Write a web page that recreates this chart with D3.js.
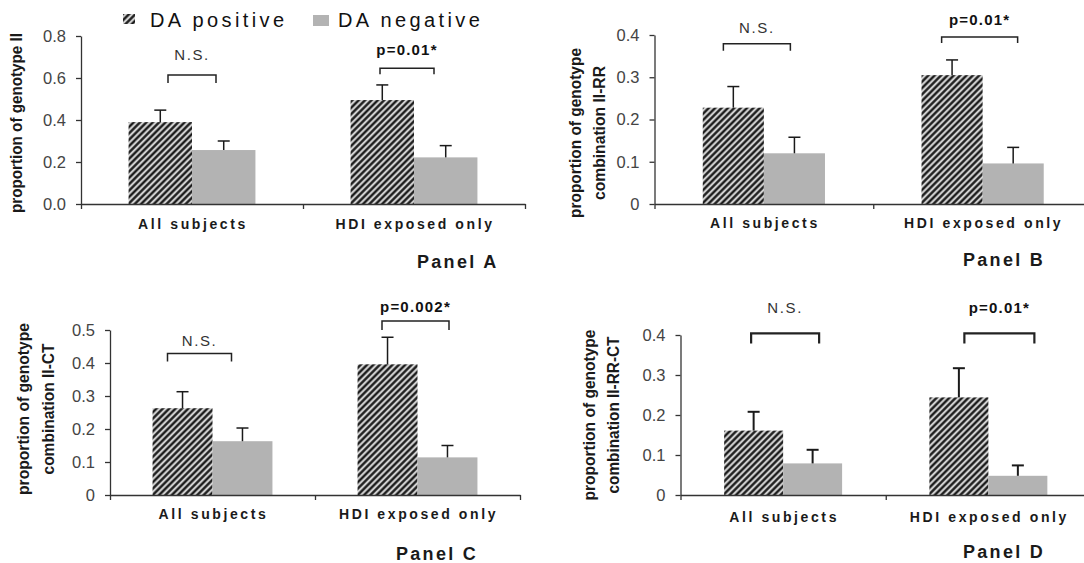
<!DOCTYPE html>
<html>
<head>
<meta charset="utf-8">
<script src="https://cdn.jsdelivr.net/npm/d3@7"></script>
<style>
  body { margin: 0; background: #fff; }
  svg { display: block; font-family: "Liberation Sans", Arial, sans-serif; }
</style>
</head>
<body>
<svg width="1084" height="563"></svg>
<script>
// categories and series
const groups = ["All subjects", "HDI exposed only"];
const series = ["DA positive", "DA negative"];
const panelNames = ["Panel A", "Panel B", "Panel C", "Panel D"];
const yTitles = [
  ["proportion of genotype II"],
  ["proportion of genotype", "combination II-RR"],
  ["proportion of genotype", "combination II-CT"],
  ["proportion of genotype", "combination II-RR-CT"]
];

// y ticks and their labels
const yTicks = [
  [0, 0.2, 0.4, 0.6, 0.8],
  [0, 0.1, 0.2, 0.3, 0.4],
  [0, 0.1, 0.2, 0.3, 0.4, 0.5],
  [0, 0.1, 0.2, 0.3, 0.4]
];
const yTickLabels = [
  ["0.0", "0.2", "0.4", "0.6", "0.8"],
  ["0", "0.1", "0.2", "0.3", "0.4"],
  ["0", "0.1", "0.2", "0.3", "0.4", "0.5"],
  ["0", "0.1", "0.2", "0.3", "0.4"]
];

// means and upper error per panel: [All subjects, HDI exposed only]
const posMeans = [[0.39, 0.495], [0.228, 0.305], [0.263, 0.396], [0.161, 0.244]];
const negMeans = [[0.257, 0.222], [0.12, 0.096], [0.163, 0.114], [0.079, 0.048]];
const posErr = [[0.057, 0.072], [0.05, 0.036], [0.05, 0.082], [0.047, 0.073]];
const negErr = [[0.043, 0.056], [0.038, 0.038], [0.04, 0.036], [0.034, 0.026]];

// significance brackets
const sigLabels = [["N.S.", "p=0.01*"], ["N.S.", "p=0.01*"], ["N.S.", "p=0.002*"], ["N.S.", "p=0.01*"]];
const bracketLevels = [[0.614, 0.646], [0.379, 0.395], [0.429, 0.527], [0.404, 0.404]];

// where each panel sits on the page
const layout = [
  { x0: 81, x1: 525, top: 36, bot: 204, pad: 0.75, titleX: [16], titleY: 123, titleLen: [180], labelGap: 25, panel: [417, 268],
    brOff: [0, -7], brHalf: [24, 27], leg: [8, 6], txtGap: [15, 13], errW: 1.5, brW: 1.5 },
  { x0: 654.5, x1: 1092, top: 35, bot: 204, pad: 0.79, titleX: [575, 599], titleY: 133, titleLen: [170, 134], labelGap: 24, panel: [963, 266],
    brOff: [-7, -3], brHalf: [33.5, 38], leg: [7, 6], txtGap: [11, 12], errW: 1.5, brW: 1.5 },
  { x0: 110, x1: 520, top: 330, bot: 495, pad: 0.71, titleX: [23, 48], titleY: 409, titleLen: [172, 131], labelGap: 24, panel: [396, 560],
    brOff: [-13, -2], brHalf: [32, 33.5], leg: [8, 9], txtGap: [7, 9], errW: 1.5, brW: 1.5 },
  { x0: 680.5, x1: 1091, top: 335, bot: 495, pad: 0.74, titleX: [589, 613], titleY: 415, titleLen: [171, 157], labelGap: 27, panel: [963, 558],
    brOff: [2, 11], brHalf: [34, 35], leg: [10, 10], txtGap: [20, 20], errW: 2, brW: 2.2 }
];

const grey = "#b3b3b3";
const ink = "#1a1a1a";
const font = "'Liberation Sans', Arial, sans-serif";

const svg = d3.select("svg");

// hatch pattern for DA positive
const defs = svg.append("defs");
const pat = defs.append("pattern")
  .attr("id", "hatch")
  .attr("patternUnits", "userSpaceOnUse")
  .attr("width", 4.5).attr("height", 10)
  .attr("patternTransform", "rotate(45)");
pat.append("rect").attr("width", 4.5).attr("height", 10).attr("fill", "#d0d0d0");
pat.append("line").attr("x1", 2.25).attr("x2", 2.25).attr("y1", 0).attr("y2", 10)
  .attr("stroke", "#111").attr("stroke-width", 2.2);

const fillFor = s => s === series[0] ? "url(#hatch)" : grey;

layout.forEach((L, i) => {
  const g = svg.append("g");

  const x = d3.scaleBand().domain(groups).range([L.x0, L.x1]);
  const xs = d3.scaleBand().domain(series).range([0, x.bandwidth()])
    .paddingInner(0).paddingOuter(L.pad);
  const y = d3.scaleLinear().domain([0, d3.max(yTicks[i])]).range([L.bot, L.top]);

  const rows = groups.map((grp, j) => ({
    group: grp,
    vals: [
      { s: series[0], v: posMeans[i][j], e: posErr[i][j] },
      { s: series[1], v: negMeans[i][j], e: negErr[i][j] }
    ]
  }));

  // bars
  const grp = g.selectAll("g.grp").data(rows).enter().append("g")
    .attr("class", "grp")
    .attr("transform", d => "translate(" + x(d.group) + ",0)");

  grp.selectAll("rect").data(d => d.vals).enter().append("rect")
    .attr("x", d => xs(d.s))
    .attr("y", d => y(d.v))
    .attr("width", xs.bandwidth())
    .attr("height", d => y(0) - y(d.v))
    .attr("fill", d => fillFor(d.s));

  // error bars (upper only)
  const err = grp.selectAll("g.err").data(d => d.vals).enter().append("g").attr("class", "err");
  err.append("line")
    .attr("x1", d => xs(d.s) + xs.bandwidth() / 2)
    .attr("x2", d => xs(d.s) + xs.bandwidth() / 2)
    .attr("y1", d => y(d.v))
    .attr("y2", d => y(d.v + d.e))
    .attr("stroke", ink).attr("stroke-width", L.errW);
  err.append("line")
    .attr("x1", d => xs(d.s) + xs.bandwidth() / 2 - 6)
    .attr("x2", d => xs(d.s) + xs.bandwidth() / 2 + 6)
    .attr("y1", d => y(d.v + d.e))
    .attr("y2", d => y(d.v + d.e))
    .attr("stroke", ink).attr("stroke-width", L.errW);

  // y axis
  const yAxis = g.append("g")
    .attr("transform", "translate(" + L.x0 + ",0)")
    .call(d3.axisLeft(y)
      .tickValues(yTicks[i])
      .tickFormat((d, k) => yTickLabels[i][k])
      .tickSize(5).tickSizeOuter(0).tickPadding(10));
  yAxis.select(".domain").attr("stroke", "#333").attr("stroke-width", 1.3);
  yAxis.selectAll(".tick line").attr("stroke", "#333").attr("stroke-width", 1.3);
  yAxis.selectAll(".tick text")
    .attr("fill", "#444").style("font-size", "16.5px")
    .style("font-family", font);

  // x axis line with boundary ticks
  const xb = d3.scaleLinear().domain([0, groups.length]).range([L.x0, L.x1]);
  const xAxis = g.append("g")
    .attr("transform", "translate(0," + L.bot + ")")
    .call(d3.axisBottom(xb).tickValues([0, 1, 2]).tickFormat("").tickSize(5).tickSizeOuter(0));
  xAxis.select(".domain").attr("stroke", "#333").attr("stroke-width", 1.3);
  xAxis.selectAll(".tick line").attr("stroke", "#333").attr("stroke-width", 1.3);

  // category labels
  const xLab = g.append("g")
    .attr("transform", "translate(0," + L.bot + ")")
    .call(d3.axisBottom(x).tickSize(0).tickPadding(L.labelGap - 10));
  xLab.select(".domain").remove();
  xLab.selectAll(".tick text")
    .attr("fill", ink)
    .attr("dx", "1px")
    .style("font-family", font)
    .style("font-size", "14px").style("font-weight", "bold")
    .style("letter-spacing", "2.6px");

  // significance brackets
  groups.forEach((grpName, j) => {
    const cx = x(grpName) + x.bandwidth() / 2 + L.brOff[j];
    const top = y(bracketLevels[i][j]);
    const h = L.brHalf[j];
    g.append("path")
      .attr("d", "M" + (cx - h) + "," + (top + L.leg[j]) + "V" + top + "H" + (cx + h) + "V" + (top + L.leg[j]))
      .attr("fill", "none").attr("stroke", "#222").attr("stroke-width", L.brW);
    const ns = sigLabels[i][j] === "N.S.";
    g.append("text")
      .attr("x", cx).attr("y", top - L.txtGap[j])
      .attr("text-anchor", "middle")
      .attr("fill", ns ? "#333" : "#111")
      .style("font-size", "15px")
      .style("font-weight", ns ? "normal" : "bold")
      .style("letter-spacing", ns ? "1.6px" : "1.2px")
      .text(sigLabels[i][j]);
  });

  // y title
  yTitles[i].forEach((t, k) => {
    g.append("text")
      .attr("transform", "translate(" + L.titleX[k] + "," + L.titleY + ") rotate(-90)")
      .attr("text-anchor", "middle")
      .attr("dy", "0.36em")
      .attr("fill", ink)
      .attr("textLength", L.titleLen[k])
      .attr("lengthAdjust", "spacingAndGlyphs")
      .style("font-size", "16.5px").style("font-weight", "bold")
      .text(t);
  });

  // panel name
  g.append("text")
    .attr("x", L.panel[0]).attr("y", L.panel[1])
    .attr("fill", ink)
    .style("font-size", "18px").style("font-weight", "bold")
    .style("letter-spacing", "2.3px")
    .text(panelNames[i]);
});

// legend
const legend = svg.append("g");
const legendPos = [{ box: [123, 14, 12, 10], text: [150, 27] }, { box: [313, 15, 16, 11], text: [338, 27] }];
series.forEach((s, k) => {
  const p = legendPos[k];
  legend.append("rect")
    .attr("x", p.box[0]).attr("y", p.box[1]).attr("width", p.box[2]).attr("height", p.box[3])
    .attr("fill", fillFor(s));
  legend.append("text")
    .attr("x", p.text[0]).attr("y", p.text[1])
    .attr("fill", "#111")
    .style("font-size", "20px").style("letter-spacing", "3.4px")
    .text(s);
});
</script>
</body>
</html>
